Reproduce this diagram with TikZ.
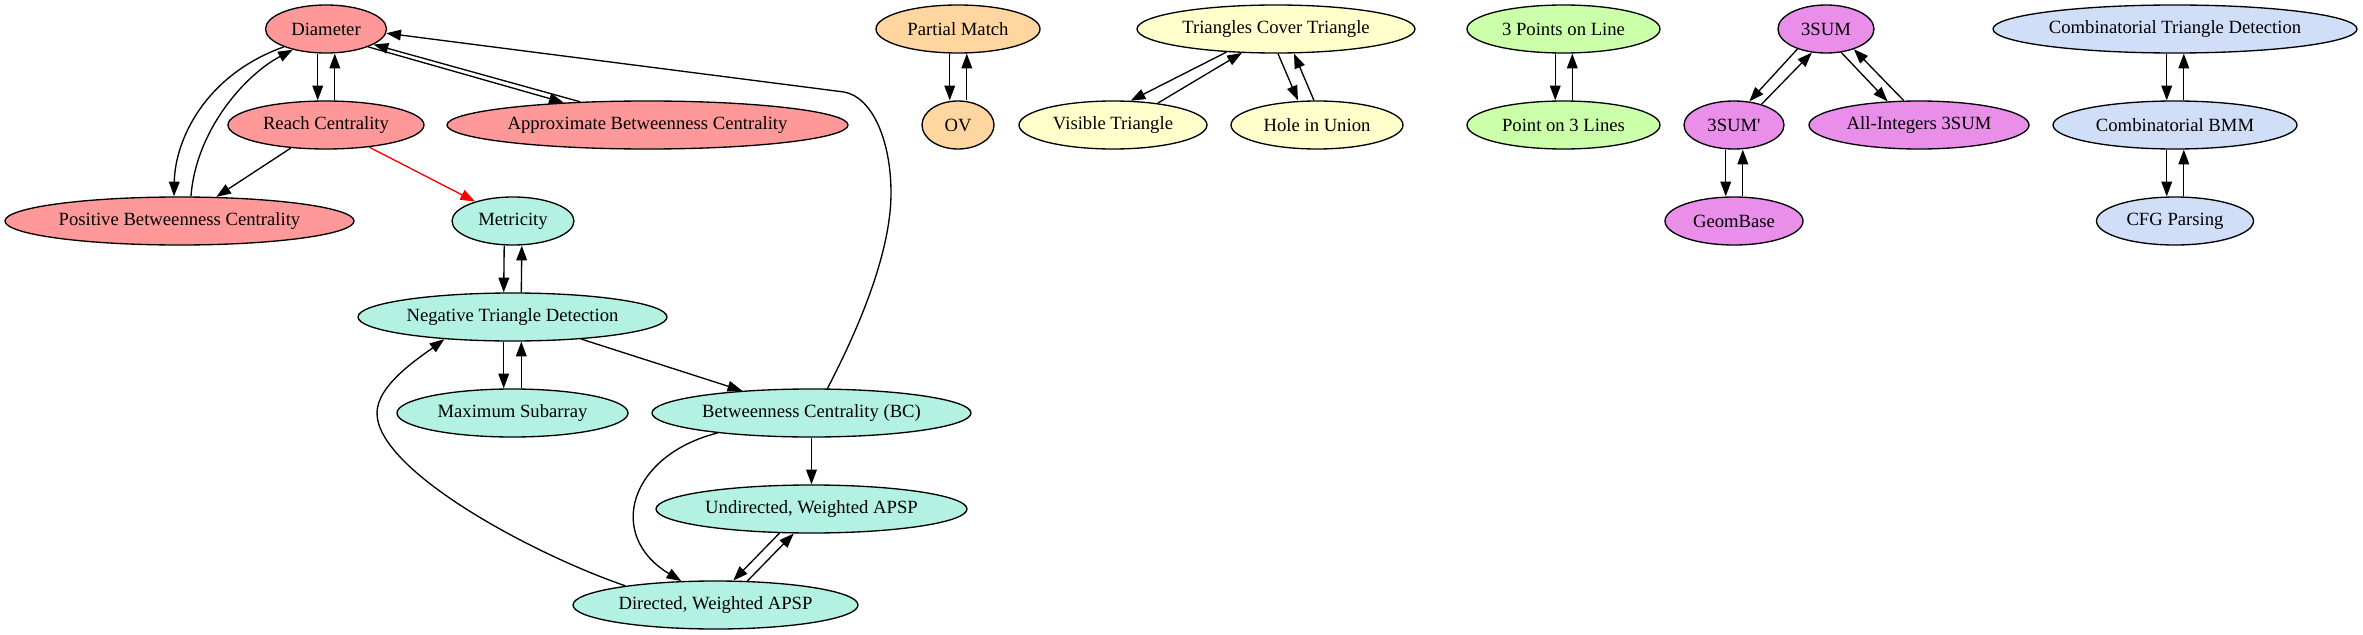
\documentclass[tikz,border=0pt]{standalone}
\usepackage{fontspec}
\setmainfont{Liberation Serif}
\usetikzlibrary{shapes.geometric,arrows.meta}
\definecolor{cred}{HTML}{FF9999}
\definecolor{cteal}{HTML}{B3F2E3}
\definecolor{corange}{HTML}{FFD6A0}
\definecolor{cyellow}{HTML}{FFFFCC}
\definecolor{cgreen}{HTML}{CCFFAA}
\definecolor{cviolet}{HTML}{E98EE9}
\definecolor{cblue}{HTML}{D1DEF8}
\tikzset{
  gn/.style={ellipse, draw=black, line width=1pt, minimum height=36pt, inner sep=0pt,
    font=\fontsize{14pt}{16pt}\selectfont},
  wd/.style={minimum width=#1*0.75pt},
  arr/.style={-{Triangle[length=11pt,width=8pt]}, line width=1pt},
}
\begin{document}
\begin{tikzpicture}[x=0.75pt,y=-0.75pt]
\useasboundingbox (0,0) rectangle (2363,635);
% red group
\node[gn, fill=cred, wd=121] (Diam) at (326,29) {Diameter};
\node[gn, fill=cred, wd=196] (Reach) at (326,125) {Reach Centrality};
\node[gn, fill=cred, wd=401] (Appr) at (647.5,125) {Approximate Betweenness Centrality};
\node[gn, fill=cred, wd=349] (PBC) at (179.5,221) {Positive Betweenness Centrality};
% teal group
\node[gn, fill=cteal, wd=122] (Metr) at (513,221) {Metricity};
\node[gn, fill=cteal, wd=309] (NTD) at (512.5,317) {Negative Triangle Detection};
\node[gn, fill=cteal, wd=231] (MaxS) at (512.5,413) {Maximum Subarray};
\node[gn, fill=cteal, wd=319] (BC) at (811.5,413) {Betweenness Centrality (BC)};
\node[gn, fill=cteal, wd=311] (Und) at (811.5,509) {Undirected, Weighted APSP};
\node[gn, fill=cteal, wd=285] (Dir) at (715.5,605) {Directed, Weighted APSP};
% orange
\node[gn, fill=corange, wd=164] (PM) at (958,29) {Partial Match};
\node[gn, fill=corange, wd=72] (OV) at (958,125) {OV};
% yellow
\node[gn, fill=cyellow, wd=278] (TCT) at (1276,29) {Triangles Cover Triangle};
\node[gn, fill=cyellow, wd=188] (Vis) at (1113,125) {Visible Triangle};
\node[gn, fill=cyellow, wd=172] (Hole) at (1317,125) {Hole in Union};
% green
\node[gn, fill=cgreen, wd=193] (PL) at (1563.5,29) {3 Points on Line};
\node[gn, fill=cgreen, wd=193] (PLs) at (1563.5,125) {Point on 3 Lines};
% violet
\node[gn, fill=cviolet, wd=96] (S3) at (1826,29) {3SUM};
\node[gn, fill=cviolet, wd=100] (S3p) at (1734,125) {3SUM\textquotesingle};
\node[gn, fill=cviolet, wd=220] (AllI) at (1919,125) {All-Integers 3SUM};
\node[gn, fill=cviolet, wd=138] (Geom) at (1734,221) {GeomBase};
% blue
\node[gn, fill=cblue, wd=364] (CTD) at (2175,29) {Combinatorial Triangle Detection};
\node[gn, fill=cblue, wd=244] (CBMM) at (2175,125) {Combinatorial BMM};
\node[gn, fill=cblue, wd=157] (CFG) at (2175,221) {CFG Parsing};

% edges: red group
\draw[arr] ([xshift=-6.2pt]Diam.south) -- ([xshift=-6.2pt]Reach.north);
\draw[arr] ([xshift=6.6pt]Reach.north) -- ([xshift=6.6pt]Diam.south);
\draw[arr] (Diam.-23) -- (Appr.165);
\draw[arr] (Appr.161) -- (Diam.-18);
\draw[arr] (Diam.-157) .. controls (205,75) and (175,140) .. ([xshift=-4.1pt]PBC.north);
\draw[arr] ([xshift=8.6pt]PBC.north) .. controls (196,130) and (245,75) .. (Diam.-148);
\draw[arr] (Reach) -- (PBC);
\draw[arr, red] (Reach) -- (Metr);
% teal group
\draw[arr] ([xshift=-6.6pt]Metr.south) -- ([xshift=-6.6pt]NTD.north);
\draw[arr] ([xshift=6.6pt]NTD.north) -- ([xshift=6.6pt]Metr.south);
\draw[arr] ([xshift=-6.6pt]NTD.south) -- ([xshift=-6.6pt]MaxS.north);
\draw[arr] ([xshift=6.6pt]MaxS.north) -- ([xshift=6.6pt]NTD.south);
\draw[arr] (NTD) -- (BC);
\draw[arr] (BC) -- (Und);
\draw[arr] (BC.57) .. controls (850,345) and (891,260) .. (891,193)
  .. controls (891,140) and (872,97) .. (844,92) -- (Diam.-4);
\draw[arr] (BC.-168) .. controls (630,455) and (605,535) .. (Dir.145);
\draw[arr] (Und.-143) -- (Dir.54);
\draw[arr] (Dir.37) -- (Und.-126);
\draw[arr] (Dir.168) .. controls (530,553) and (377,470) .. (377,413)
  .. controls (377,385) and (419,358) .. (NTD.-162);
% orange
\draw[arr] ([xshift=-6.2pt]PM.south) -- ([xshift=-6.2pt]OV.north);
\draw[arr] ([xshift=6.6pt]OV.north) -- ([xshift=6.6pt]PM.south);
% yellow
\draw[arr] (TCT.-155) -- (Vis.54);
\draw[arr] (Vis.26) -- (TCT.-145);
\draw[arr] ([xshift=1.5pt]TCT.south) -- ([xshift=-14.3pt]Hole.north);
\draw[arr] ([xshift=-2.3pt]Hole.north) -- ([xshift=13.5pt]TCT.south);
% green
\draw[arr] ([xshift=-6.2pt]PL.south) -- ([xshift=-6.2pt]PLs.north);
\draw[arr] ([xshift=6.6pt]PLs.north) -- ([xshift=6.6pt]PL.south);
% violet
\draw[arr] (S3.-145) -- (S3p.57);
\draw[arr] (S3p.37) -- (S3.-121);
\draw[arr] (S3.-57) -- (AllI.143);
\draw[arr] (AllI.122) -- (S3.-36);
\draw[arr] ([xshift=-6.2pt]S3p.south) -- ([xshift=-6.2pt]Geom.north);
\draw[arr] ([xshift=6.6pt]Geom.north) -- ([xshift=6.6pt]S3p.south);
% blue
\draw[arr] ([xshift=-6.2pt]CTD.south) -- ([xshift=-6.2pt]CBMM.north);
\draw[arr] ([xshift=6.6pt]CBMM.north) -- ([xshift=6.6pt]CTD.south);
\draw[arr] ([xshift=-6.2pt]CBMM.south) -- ([xshift=-6.2pt]CFG.north);
\draw[arr] ([xshift=6.6pt]CFG.north) -- ([xshift=6.6pt]CBMM.south);
\end{tikzpicture}
\end{document}
